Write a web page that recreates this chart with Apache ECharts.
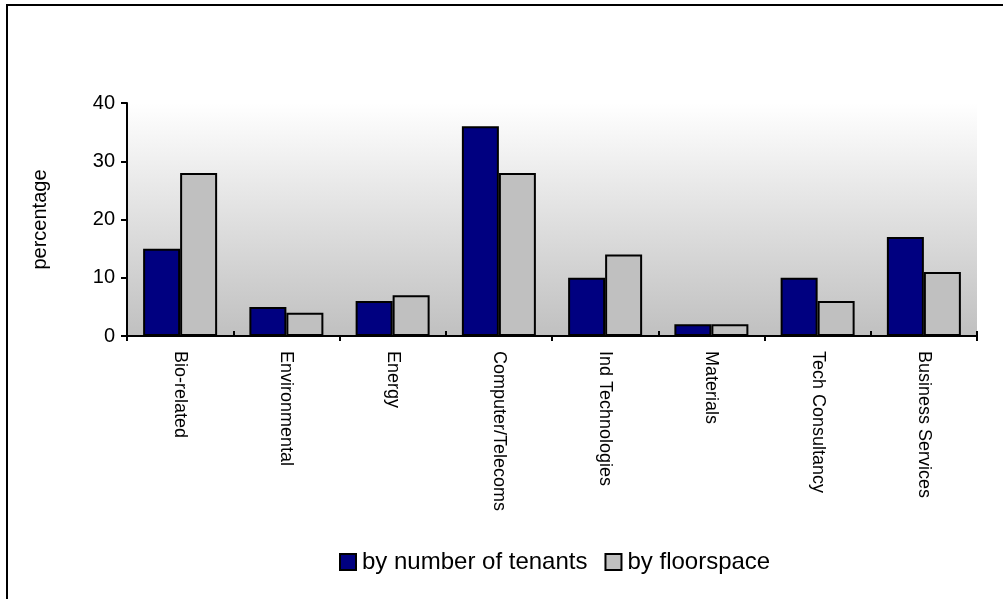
<!DOCTYPE html>
<html>
<head>
<meta charset="utf-8">
<script src="https://cdn.jsdelivr.net/npm/echarts@6/dist/echarts.min.js"></script>
<style>
  html, body { margin: 0; padding: 0; background: #ffffff; }
  #chart { width: 1003px; height: 599px; }
</style>
</head>
<body>
<div id="chart"></div>
<script>
// Sector breakdown of tenants, as percentages
const categories = ['Bio-related', 'Environmental', 'Energy', 'Computer/Telecoms',
                    'Ind Technologies', 'Materials', 'Tech Consultancy', 'Business Services'];
const byTenants = [15, 5, 6, 36, 10, 2, 10, 17];
const byFloorspace = [28, 4, 7, 28, 14, 2, 6, 11];
const seriesNames = ['by number of tenants', 'by floorspace'];
const yTicks = { min: 0, max: 40, step: 10 };

const FONT = '"Liberation Sans", Arial, sans-serif';
const chart = echarts.init(document.getElementById('chart'), null, { renderer: 'canvas' });

chart.setOption({
  backgroundColor: '#ffffff',
  animation: false,
  graphic: [{
    type: 'rect',
    shape: { x: 7, y: 5, width: 1010, height: 600 },
    style: { fill: 'none', stroke: '#000000', lineWidth: 2 },
    silent: true,
    z: 100
  }],
  legend: {
    bottom: 20,
    left: 334,
    itemWidth: 16,
    itemHeight: 16,
    itemGap: 17,
    textStyle: { fontFamily: FONT, fontSize: 24, color: '#000000', padding: [0, 0, 0, 1] },
    data: seriesNames.map(n => ({ name: n, icon: 'rect' }))
  },
  grid: {
    left: 127, right: 26, top: 103, bottom: 263,
    show: true,
    borderWidth: 0,
    backgroundColor: {
      type: 'linear', x: 0, y: 0, x2: 0, y2: 1,
      colorStops: [
        { offset: 0, color: '#ffffff' },
        { offset: 1, color: '#c0c0c0' }
      ]
    }
  },
  xAxis: [{
    type: 'category',
    data: categories,
    boundaryGap: true,
    axisLine: { lineStyle: { color: '#000000', width: 2 } },
    axisTick: {
      show: true, inside: false, length: 5,
      interval: (i) => i % 2 === 0,
      lineStyle: { color: '#000000', width: 2 }
    },
    axisLabel: {
      rotate: -90, interval: 0, margin: 15,
      fontFamily: FONT, fontSize: 18, color: '#000000'
    },
    splitLine: { show: false }
  }, {
    type: 'category',
    data: categories,
    position: 'bottom',
    boundaryGap: true,
    axisLine: { show: false },
    axisTick: {
      show: true, inside: true, length: 5,
      interval: (i) => i % 2 === 1,
      lineStyle: { color: '#000000', width: 2 }
    },
    axisLabel: { show: false },
    splitLine: { show: false }
  }],
  yAxis: {
    type: 'value',
    min: yTicks.min, max: yTicks.max, interval: yTicks.step,
    name: 'percentage',
    nameLocation: 'middle',
    nameGap: 77,
    nameRotate: 90,
    nameTextStyle: { fontFamily: FONT, fontSize: 20, color: '#000000' },
    axisLine: { show: true, lineStyle: { color: '#000000', width: 2 } },
    axisTick: { show: true, length: 6, lineStyle: { color: '#000000', width: 2 } },
    axisLabel: { margin: 12, fontFamily: FONT, fontSize: 20, color: '#000000' },
    splitLine: { show: false }
  },
  series: [{
    name: seriesNames[0],
    type: 'bar',
    xAxisIndex: 0,
    data: byTenants,
    barWidth: 37,
    barGap: '0%',
    itemStyle: { color: '#000080', borderColor: '#000000', borderWidth: 2 }
  }, {
    name: seriesNames[1],
    type: 'bar',
    xAxisIndex: 0,
    data: byFloorspace,
    barWidth: 37,
    barGap: '0%',
    itemStyle: { color: '#c0c0c0', borderColor: '#000000', borderWidth: 2 }
  }]
});
</script>
</body>
</html>
